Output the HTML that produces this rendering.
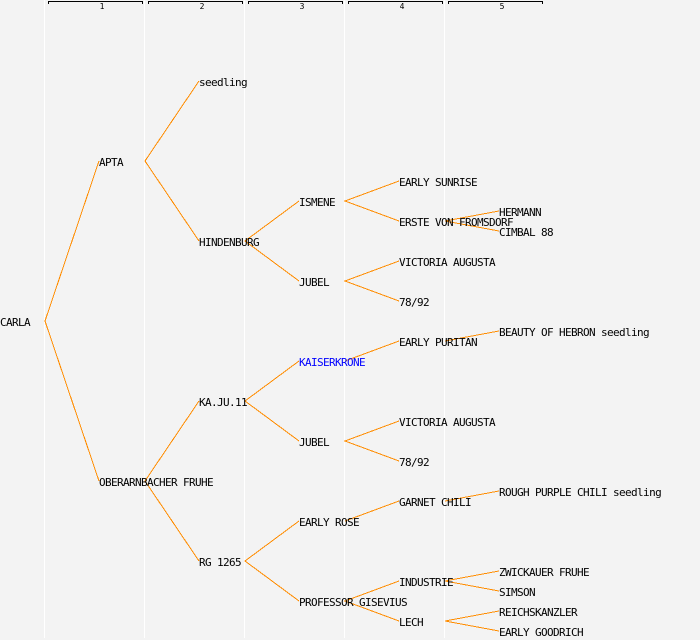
<!DOCTYPE html>
<html>
<head>
<meta charset="utf-8">
<style>
html,body{margin:0;padding:0;background:#f3f3f3;width:700px;height:640px;overflow:hidden}
svg{display:block}
text{font-family:"DejaVu Sans Mono",monospace;font-size:11px;letter-spacing:-0.62px;fill:#000}
text.n{font-size:8px;letter-spacing:0}
</style>
</head>
<body>
<svg width="700" height="640" viewBox="0 0 700 640" xmlns="http://www.w3.org/2000/svg">
<rect width="700" height="640" fill="#f3f3f3"/>
<g stroke="#ffffff" stroke-width="1" shape-rendering="crispEdges">
<line x1="44.5" y1="0" x2="44.5" y2="638"/>
<line x1="144.5" y1="0" x2="144.5" y2="638"/>
<line x1="244.5" y1="0" x2="244.5" y2="638"/>
<line x1="344.5" y1="0" x2="344.5" y2="638"/>
<line x1="444.5" y1="0" x2="444.5" y2="638"/>
</g>
<g fill="none" stroke="#000" stroke-width="1" shape-rendering="crispEdges">
<path d="M48.5 4V1.5H142.5V4"/>
<path d="M148.5 4V1.5H242.5V4"/>
<path d="M248.5 4V1.5H342.5V4"/>
<path d="M348.5 4V1.5H442.5V4"/>
<path d="M448.5 4V1.5H542.5V4"/>
</g>
<g text-anchor="middle">
<text class="n" x="102" y="9">1</text>
<text class="n" x="202" y="9">2</text>
<text class="n" x="302" y="9">3</text>
<text class="n" x="402" y="9">4</text>
<text class="n" x="502" y="9">5</text>
</g>
<g stroke="#ff8c00" stroke-width="1" fill="none" shape-rendering="crispEdges">
<path d="M99 161L45 321L99 481"/>
<path d="M199 81L145 161L199 241"/>
<path d="M199 401L145 481L199 561"/>
<path d="M299 201L245 241L299 281"/>
<path d="M299 361L245 401L299 441"/>
<path d="M299 521L245 561L299 601"/>
<path d="M399 181L345 201L399 221"/>
<path d="M399 261L345 281L399 301"/>
<path d="M399 341L345 361"/>
<path d="M399 421L345 441L399 461"/>
<path d="M399 501L345 521"/>
<path d="M399 581L345 601L399 621"/>
<path d="M499 211L445 221L499 231"/>
<path d="M499 331L445 341"/>
<path d="M499 491L445 501"/>
<path d="M499 571L445 581L499 591"/>
<path d="M499 611L445 621L499 631"/>
</g>
<g>
<text x="0" y="326">CARLA</text>
<text x="99" y="166">APTA</text>
<text x="99" y="486">OBERARNBACHER FRUHE</text>
<text x="199" y="86">seedling</text>
<text x="199" y="246">HINDENBURG</text>
<text x="199" y="406">KA.JU.11</text>
<text x="199" y="566">RG 1265</text>
<text x="299" y="206">ISMENE</text>
<text x="299" y="286">JUBEL</text>
<text x="299" y="366" style="fill:#0000ff">KAISERKRONE</text>
<text x="299" y="446">JUBEL</text>
<text x="299" y="526">EARLY ROSE</text>
<text x="299" y="606">PROFESSOR GISEVIUS</text>
<text x="399" y="186">EARLY SUNRISE</text>
<text x="399" y="226">ERSTE VON FROMSDORF</text>
<text x="399" y="266">VICTORIA AUGUSTA</text>
<text x="399" y="306">78/92</text>
<text x="399" y="346">EARLY PURITAN</text>
<text x="399" y="426">VICTORIA AUGUSTA</text>
<text x="399" y="466">78/92</text>
<text x="399" y="506">GARNET CHILI</text>
<text x="399" y="586">INDUSTRIE</text>
<text x="399" y="626">LECH</text>
<text x="499" y="216">HERMANN</text>
<text x="499" y="236">CIMBAL 88</text>
<text x="499" y="336">BEAUTY OF HEBRON seedling</text>
<text x="499" y="496">ROUGH PURPLE CHILI seedling</text>
<text x="499" y="576">ZWICKAUER FRUHE</text>
<text x="499" y="596">SIMSON</text>
<text x="499" y="616">REICHSKANZLER</text>
<text x="499" y="636">EARLY GOODRICH</text>
</g>
</svg>
</body>
</html>
